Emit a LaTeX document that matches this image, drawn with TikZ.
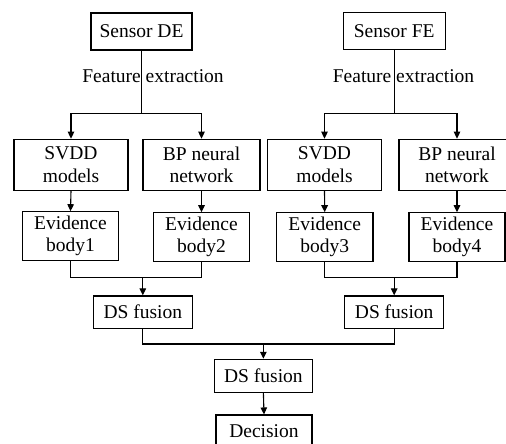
\documentclass[tikz,border=0pt]{standalone}
\usepackage{fontspec}
\setmainfont{Liberation Serif}
\usetikzlibrary{arrows.meta}
\tikzset{
  box/.style={draw, line width=1.1pt, inner sep=0pt, align=center,
    font=\fontsize{19.5}{22.5}\selectfont},
  lbl/.style={inner sep=0pt, font=\fontsize{19.5}{22.5}\selectfont},
  conn/.style={line width=1.1pt},
  arr/.style={line width=1.1pt, -{Triangle[length=7pt,width=6.5pt]}}
}
\begin{document}
\begin{tikzpicture}[x=1pt,y=-1pt]
\useasboundingbox (0,0) rectangle (506,444);
\clip (0,0) rectangle (506,444);
% top row
\node[box, minimum width=101pt, minimum height=37pt] (sde) at (141.5,31.5) {Sensor DE};
\node[box, minimum width=102pt, minimum height=37pt] (sfe) at (394.2,31.4) {Sensor FE};
\node[lbl] (fx1) at (153,76) {Feature extraction};
\node[lbl] (fx2) at (403.5,76) {Feature extraction};
% model boxes
\node[box, minimum width=114pt, minimum height=51pt] (svdd1) at (71,164.7) {SVDD\\models};
\node[box, minimum width=117pt, minimum height=51pt] (bp1) at (201.5,164.7) {BP neural\\network};
\node[box, minimum width=114pt, minimum height=51pt] (svdd2) at (324.5,164.7) {SVDD\\models};
\node[box, minimum width=116pt, minimum height=51pt] (bp2) at (457,164.7) {BP neural\\network};
% evidence boxes
\node[box, minimum width=96pt, minimum height=48.5pt] (ev1) at (70.5,236) {Evidence\\body1};
\node[box, minimum width=96pt, minimum height=48.5pt] (ev2) at (201.5,237) {Evidence\\body2};
\node[box, minimum width=96.5pt, minimum height=48.5pt] (ev3) at (324.7,237) {Evidence\\body3};
\node[box, minimum width=96pt, minimum height=48.5pt] (ev4) at (457,237) {Evidence\\body4};
% fusion
\node[box, minimum width=99pt, minimum height=32.5pt] (ds1) at (142.8,312.2) {DS fusion};
\node[box, minimum width=99pt, minimum height=32.5pt] (ds2) at (394.2,312.2) {DS fusion};
\node[box, minimum width=98.5pt, minimum height=33pt] (ds3) at (263.4,375.8) {DS fusion};
\node[box, minimum width=96pt, minimum height=33pt] (dec) at (264,431.5) {Decision};
% junctions
\coordinate (j1) at (141.5,113.3);
\coordinate (j2) at (394.2,113.3);
\coordinate (m1) at (142.8,277.7);
\coordinate (m2) at (394.2,277.7);
\coordinate (m3) at (263.4,344);
% connectors
\draw[conn] (sde.south) -- (j1);
\draw[arr] (j1) -| (svdd1.north);
\draw[arr] (j1) -| (bp1.north);
\draw[conn] (sfe.south) -- (j2);
\draw[arr] (j2) -| (svdd2.north);
\draw[arr] (j2) -| (bp2.north);
\draw[arr] (svdd1.south) -- (ev1.north);
\draw[arr] (bp1.south) -- (ev2.north);
\draw[arr] (svdd2.south) -- (ev3.north);
\draw[arr] (bp2.south) -- (ev4.north);
\draw[conn] (ev1.south) |- (m1) -| (ev2.south);
\draw[arr] (m1) -- (ds1.north);
\draw[conn] (ev3.south) |- (m2) -| (ev4.south);
\draw[arr] (m2) -- (ds2.north);
\draw[conn] (ds1.south) |- (m3) -| (ds2.south);
\draw[arr] (m3) -- (ds3.north);
\draw[arr] (ds3.south) -- (dec.north);
\end{tikzpicture}
\end{document}
